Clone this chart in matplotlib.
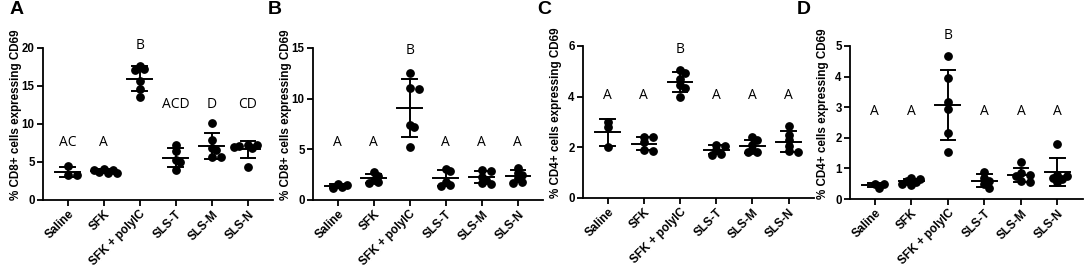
"""CD69 expression on CD8+/CD4+ cells per treatment group: 4 scatter panels
(mean +/- SD) with significance letters above each group."""
import numpy as np
import matplotlib
matplotlib.use("Agg")
import matplotlib.pyplot as plt

plt.rcParams["font.family"] = ["Liberation Sans", "DejaVu Sans"]

groups = ["Saline", "SFK", "SFK + polyIC", "SLS-T", "SLS-M", "SLS-N"]

# panel A: % CD8+ cells expressing CD69
a_vals = [[4.5, 3.3, 3.3],
          [4.1, 3.9, 3.7, 3.6, 3.5, 4.0],
          [17.6, 17.2, 17.1, 15.6, 14.6, 13.6],
          [7.2, 6.5, 5.3, 5.0, 3.9],
          [10.1, 7.9, 6.9, 6.6, 5.6, 5.6],
          [7.3, 7.2, 7.1, 7.0, 6.9, 4.4]]
a_letters = ["AC", "A", "B", "ACD", "D", "CD"]
a_letter_y = [7.5, 7.5, 20.3, 12.6, 12.6, 12.6]

# panel B: % CD8+ cells expressing CD69
b_vals = [[1.6, 1.5, 1.3, 1.2],
          [2.8, 2.4, 2.0, 1.8, 1.7],
          [12.5, 11.1, 11.0, 7.4, 7.2, 5.2],
          [3.1, 2.9, 1.8, 1.5, 1.4],
          [3.0, 2.9, 2.3, 2.0, 1.7, 1.6],
          [3.2, 2.7, 2.5, 2.2, 1.8, 1.7]]
b_letters = ["A", "A", "B", "A", "A", "A"]
b_letter_y = [5.7, 5.7, 14.8, 5.7, 5.7, 5.7]

# panel C: % CD4+ cells expressing CD69
c_vals = [[3.0, 2.8, 2.0],
          [2.4, 2.4, 2.2, 1.9, 1.85],
          [5.05, 4.95, 4.7, 4.45, 4.35, 4.0],
          [2.1, 2.05, 1.9, 1.75, 1.7],
          [2.4, 2.3, 2.1, 1.9, 1.8, 1.8],
          [2.85, 2.5, 2.3, 2.05, 1.85, 1.8]]
c_letters = ["A", "A", "B", "A", "A", "A"]
c_letter_y = [4.05, 4.05, 5.85, 4.05, 4.05, 4.05]

# panel D: % CD4+ cells expressing CD69
d_vals = [[0.5, 0.48, 0.37],
          [0.7, 0.65, 0.6, 0.55, 0.5, 0.45],
          [4.67, 3.96, 3.16, 2.94, 2.17, 1.55],
          [0.87, 0.7, 0.6, 0.5, 0.35],
          [1.2, 0.85, 0.8, 0.75, 0.6, 0.57],
          [1.8, 0.8, 0.75, 0.7, 0.65, 0.55]]
d_letters = ["A", "A", "B", "A", "A", "A"]
d_letter_y = [2.87, 2.87, 5.35, 2.87, 2.87, 2.87]

panels = [
    ("A", a_vals, a_letters, a_letter_y, "% CD8+ cells expressing CD69", (0, 20), [0, 5, 10, 15, 20]),
    ("B", b_vals, b_letters, b_letter_y, "% CD8+ cells expressing CD69", (0, 15), [0, 5, 10, 15]),
    ("C", c_vals, c_letters, c_letter_y, "% CD4+ cells expressing CD69", (0, 6), [0, 2, 4, 6]),
    ("D", d_vals, d_letters, d_letter_y, "% CD4+ cells expressing CD69", (0, 5), [0, 1, 2, 3, 4, 5]),
]

W, H = 1084, 267
# axes boxes in pixels: left, top, right, bottom
boxes = [(43, 48, 273, 200), (313, 48, 543, 200), (583, 46, 814, 198), (850, 46, 1083, 199)]
tag_x = [10, 268, 537, 797]

fig = plt.figure(figsize=(W / 100, H / 100), dpi=100)


def swarm_offsets(ax, xc, ys, diam_px=7.0):
    """Loose beeswarm: nudge points sideways, letting dots overlap a bit."""
    placed = []
    offs = []
    step = diam_px * 0.65
    for y in ys:
        _, py = ax.transData.transform((xc, y))
        for k in [0, 1, -1, 2, -2, 3, -3]:
            px = k * step
            if all((px - qx) ** 2 + (py - qy) ** 2 >= (diam_px * 0.7) ** 2 for qx, qy in placed):
                break
        placed.append((px, py))
        offs.append(px)
    x0, _ = ax.transData.transform((xc, 0))
    return [ax.transData.inverted().transform((x0 + o, 0))[0] for o in offs]


for (tag, vals, letters, ly, ylabel, ylim, yticks), (l, t, r, b), tx in zip(panels, boxes, tag_x):
    ax = fig.add_axes([l / W, 1 - b / H, (r - l) / W, (b - t) / H])
    ax.set_xlim(-0.68, 5.7)
    ax.set_ylim(*ylim)
    ax.set_yticks(yticks)
    ax.set_xticks(range(len(groups)))
    ax.set_xticklabels(groups, rotation=45, ha="right", rotation_mode="anchor",
                       fontsize=8.5, fontweight="bold")
    for lab in ax.get_yticklabels():
        lab.set_fontweight("bold")
        lab.set_fontsize(8.3)
    ax.set_ylabel(ylabel, fontsize=8.4, fontweight="bold")
    ax.yaxis.set_label_coords(-0.092, 0.56)
    for s in ["top", "right"]:
        ax.spines[s].set_visible(False)
    for s in ["left", "bottom"]:
        ax.spines[s].set_linewidth(1.3)
    ax.tick_params(width=1.3, length=4, pad=2)

    for i, v in enumerate(vals):
        v = np.array(v)
        xs = swarm_offsets(ax, i, v)
        ax.scatter(xs, v, s=28, color="black", zorder=3, clip_on=False)
        m, sd = v.mean(), v.std(ddof=1)
        ax.plot([i - 0.34, i + 0.34], [m, m], color="black", lw=1.4, zorder=4)
        ax.plot([i, i], [m - sd, m + sd], color="black", lw=1.4, zorder=4)
        for e in (m - sd, m + sd):
            ax.plot([i - 0.2, i + 0.2], [e, e], color="black", lw=1.4, zorder=4)
        ax.text(i, ly[i], letters[i], ha="center", va="center", fontsize=10,
                family=["Open Sans", "DejaVu Sans"], clip_on=False)

    fig.text(tx / W, 1 - 10 / H, tag, fontsize=14, fontweight="bold", va="center")

fig.savefig("out.png", dpi=100)
